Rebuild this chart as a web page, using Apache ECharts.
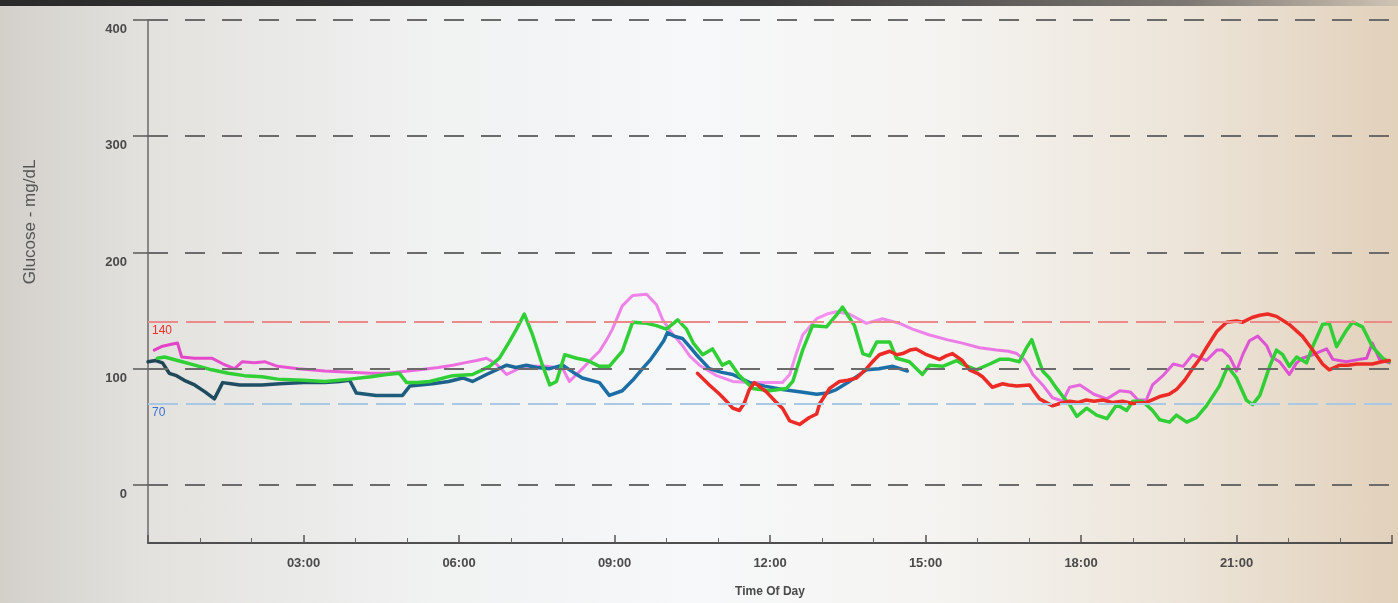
<!DOCTYPE html>
<html>
<head>
<meta charset="utf-8">
<title>Glucose - Time Of Day</title>
<script src="https://cdn.jsdelivr.net/npm/echarts@6/dist/echarts.min.js"></script>
<style>
  html, body { margin: 0; padding: 0; }
  body {
    width: 1398px; height: 603px; overflow: hidden; position: relative;
    background: linear-gradient(90deg, #d3d0ca 0%, #e2e1dd 10%, #f0f1f1 30%, #f6f8f9 50%, #f4f3f0 68%, #ece4d8 85%, #e2d1bb 100%);
  }
  #bezel {
    position: absolute; left: 0; top: 0; width: 1398px; height: 6px;
    background: linear-gradient(90deg, #2a2a2a 0%, #3a3a3a 55%, #7d7873 85%, #cfc4b4 100%);
  }
  #chart { position: absolute; left: 0; top: 0; width: 1398px; height: 603px; }
</style>
</head>
<body>
<div id="bezel"></div>
<div id="chart"></div>
<script>
// Glucose readings, [hour of day, mg/dL]
const traceBlue = [[0,106],[0.15,107],[0.28,105],[0.41,96],[0.55,94],[0.7,90],[0.9,86],[1.1,80],[1.28,74],[1.44,88],[1.6,87],[1.77,86],[2.2,86],[2.54,87],[3.0,88],[3.41,88],[3.7,89],[3.89,90],[4.02,79],[4.4,77],[4.91,77],[5.05,85],[5.49,87],[5.8,89],[6.07,92],[6.26,89],[6.53,95],[6.92,103],[7.1,101],[7.3,103],[7.5,101],[7.75,100],[8.0,103],[8.2,97],[8.38,92],[8.71,88],[8.9,77],[9.15,81],[9.35,90],[9.54,100],[9.7,108],[9.81,115],[9.95,124],[10.02,131],[10.15,128],[10.31,126],[10.45,119],[10.58,112],[10.83,100],[11.05,97],[11.28,95],[11.61,88],[11.9,85],[12.24,82],[12.6,80],[12.9,78],[13.1,79],[13.28,82],[13.5,88],[13.86,99],[14.1,100],[14.37,102],[14.65,98]];

const tracePink = [[0.12,116],[0.26,119],[0.45,121],[0.57,122],[0.65,110],[0.9,109],[1.23,109],[1.45,104],[1.67,100],[1.82,106],[2.05,105],[2.25,106],[2.5,102],[2.9,100],[3.41,98],[3.9,97],[4.3,96],[4.6,96],[5.24,99],[5.6,101],[5.88,103],[6.1,105],[6.34,107],[6.53,109],[6.72,104],[6.92,95],[7.1,99],[7.22,102],[7.69,102],[8.0,100],[8.13,89],[8.38,100],[8.55,108],[8.71,115],[8.85,125],[8.96,134],[9.15,154],[9.35,163],[9.62,164],[9.81,155],[9.93,142],[10.1,131],[10.31,120],[10.45,111],[10.64,103],[10.97,94],[11.28,89],[11.6,88],[11.93,88],[12.24,88],[12.38,95],[12.5,112],[12.63,129],[12.9,143],[13.1,147],[13.28,149],[13.53,147],[13.86,139],[14.17,143],[14.5,139],[14.75,134],[15.08,129],[15.41,125],[15.71,122],[16.04,118],[16.37,116],[16.6,115],[16.76,113],[16.9,108],[16.98,103],[17.07,95],[17.26,86],[17.45,75],[17.65,72],[17.78,84],[17.98,86],[18.25,78],[18.5,74],[18.75,81],[18.95,80],[19.1,73],[19.26,73],[19.38,86],[19.58,94],[19.78,104],[19.97,102],[20.15,112],[20.42,107],[20.62,116],[20.73,116],[20.87,110],[21.0,98],[21.12,112],[21.25,124],[21.41,128],[21.58,120],[21.68,110],[21.83,106],[22.02,95],[22.16,105],[22.27,109],[22.47,112],[22.74,117],[22.86,108],[23.12,106],[23.37,108],[23.51,109],[23.62,122],[23.76,108],[23.95,105]];

const traceGreen = [[0.18,109],[0.32,110],[0.57,107],[0.9,103],[1.23,99],[1.55,96],[1.86,94],[2.2,93],[2.5,91],[3.0,90],[3.41,89],[3.9,91],[4.3,93],[4.6,95],[4.85,96],[4.99,88],[5.2,88],[5.43,89],[5.88,94],[6.26,95],[6.45,99],[6.59,102],[6.78,109],[6.97,123],[7.11,134],[7.26,147],[7.42,129],[7.61,103],[7.75,86],[7.88,89],[8.04,112],[8.27,109],[8.48,107],[8.71,102],[8.9,102],[9.15,115],[9.35,140],[9.62,139],[9.81,137],[10.0,134],[10.22,142],[10.39,134],[10.52,122],[10.7,112],[10.89,117],[11.08,103],[11.22,106],[11.41,94],[11.67,83],[11.99,81],[12.32,83],[12.44,89],[12.63,116],[12.82,137],[13.09,136],[13.28,146],[13.4,153],[13.5,146],[13.63,137],[13.79,113],[13.92,111],[14.06,123],[14.31,123],[14.44,109],[14.69,106],[14.94,95],[15.08,103],[15.33,102],[15.6,107],[15.71,104],[15.98,99],[16.24,104],[16.43,108],[16.62,108],[16.81,106],[16.95,118],[17.05,125],[17.14,113],[17.26,98],[17.39,92],[17.53,83],[17.65,76],[17.78,69],[17.92,59],[18.11,66],[18.3,60],[18.5,57],[18.69,69],[18.88,64],[19.0,72],[19.19,72],[19.38,64],[19.52,56],[19.71,54],[19.84,60],[20.04,54],[20.23,58],[20.42,68],[20.67,85],[20.83,102],[21.0,92],[21.19,73],[21.31,69],[21.45,77],[21.64,102],[21.77,116],[21.89,112],[22.02,102],[22.16,110],[22.35,105],[22.47,119],[22.66,138],[22.79,139],[22.93,119],[23.12,133],[23.24,140],[23.43,136],[23.62,119],[23.82,109],[23.95,106]];

const traceRed = [[10.6,96],[10.83,86],[11.03,78],[11.16,72],[11.28,66],[11.41,64],[11.5,70],[11.6,82],[11.7,88],[11.93,80],[12.1,72],[12.24,66],[12.38,55],[12.57,52],[12.76,58],[12.9,61],[12.96,70],[13.15,83],[13.34,89],[13.5,90],[13.67,92],[13.86,100],[14.0,107],[14.11,112],[14.31,115],[14.45,112],[14.56,113],[14.7,116],[14.82,117],[15.02,112],[15.15,110],[15.27,108],[15.4,111],[15.52,113],[15.71,107],[15.85,99],[16.0,96],[16.1,93],[16.29,84],[16.49,87],[16.6,86],[16.76,85],[17.01,86],[17.1,80],[17.2,74],[17.45,68],[17.59,70],[17.78,72],[17.95,71],[18.1,73],[18.25,72],[18.42,73],[18.6,71],[18.8,72],[19.0,70],[19.26,71],[19.52,76],[19.7,78],[19.84,82],[20.0,90],[20.15,100],[20.3,109],[20.42,118],[20.62,132],[20.81,140],[21.0,141],[21.12,140],[21.3,144],[21.45,146],[21.6,147],[21.77,145],[22.02,138],[22.27,128],[22.47,116],[22.66,104],[22.79,99],[22.99,103],[23.15,103],[23.32,104],[23.62,104],[23.8,106],[23.95,107]];

// Axis ticks and reference levels
const yTicks = [0, 100, 200, 300, 400];
const targetHigh = 140;
const targetLow = 70;

const chart = echarts.init(document.getElementById('chart'), null, { renderer: 'canvas' });

const grayGrid = yTicks.map(v => ({
  yAxis: v,
  lineStyle: { color: '#6b6b6b', width: 2, type: [20, 17] },
  label: { show: false }
}));

function traceLine(name, data, color, width) {
  return {
    name: name, type: 'line', data: data, showSymbol: false, symbol: 'none',
    smooth: false, silent: true,
    lineStyle: { color: color, width: width, cap: 'round', join: 'round' }
  };
}

const blueColor = new echarts.graphic.LinearGradient(0, 0, 1, 0, [
  { offset: 0, color: '#1f4553' },
  { offset: 0.3, color: '#1e5a78' },
  { offset: 0.55, color: '#1b6ea6' },
  { offset: 1, color: '#1b70a8' }
]);
const pinkColor = new echarts.graphic.LinearGradient(0, 0, 1, 0, [
  { offset: 0, color: '#e43fc6' },
  { offset: 0.3, color: '#ee7ae6' },
  { offset: 0.55, color: '#f290ef' },
  { offset: 0.8, color: '#e35fdb' },
  { offset: 1, color: '#d947cd' }
]);

const pinkSeries = traceLine('pink', tracePink, pinkColor, 3);
pinkSeries.markLine = {
  silent: true, symbol: 'none', animation: false,
  data: grayGrid.concat([
    {
      yAxis: targetHigh,
      lineStyle: { color: '#ec8a8a', width: 2, type: [30, 8] },
      label: { show: true, position: 'insideStartBottom', formatter: String(targetHigh),
               color: '#e8312a', fontSize: 12, fontFamily: 'Liberation Sans, Arial, sans-serif', distance: [4, 3] }
    },
    {
      yAxis: targetLow,
      lineStyle: { color: '#a8c8e4', width: 2, type: [30, 8] },
      label: { show: true, position: 'insideStartBottom', formatter: String(targetLow),
               color: '#3b6fd6', fontSize: 12, fontFamily: 'Liberation Sans, Arial, sans-serif', distance: [4, 3] }
    }
  ])
};

const option = {
  animation: false,
  backgroundColor: 'transparent',
  grid: { left: 148, right: 6, top: 20, bottom: 58, containLabel: false },
  xAxis: {
    type: 'value', min: 0, max: 24, interval: 3,
    name: 'Time Of Day', nameLocation: 'middle', nameGap: 43,
    nameTextStyle: { color: '#4a4a4a', fontSize: 12, fontWeight: 'bold', fontFamily: 'Liberation Sans, Arial, sans-serif' },
    axisLine: { show: true, onZero: false, lineStyle: { color: '#4f4f4f', width: 2 } },
    axisTick: { show: true, inside: true, length: 8, lineStyle: { color: '#555', width: 1.5 } },
    minorTick: { show: true, splitNumber: 3, length: 5, lineStyle: { color: '#666', width: 1 } },
    splitLine: { show: false },
    axisLabel: {
      margin: 14, color: '#4a4a4a', fontSize: 13, fontWeight: 'bold',
      fontFamily: 'Liberation Sans, Arial, sans-serif',
      formatter: v => (v > 0 && v < 24) ? String(v).padStart(2, '0') + ':00' : ''
    }
  },
  yAxis: {
    type: 'value', min: -50, max: 400,
    axisLine: { show: true, onZero: false, lineStyle: { color: '#6a6a6a', width: 1.5 } },
    axisTick: { show: true, length: 15, customValues: yTicks, lineStyle: { color: '#5a5a5a', width: 1.5 } },
    splitLine: { show: false },
    axisLabel: {
      customValues: yTicks, margin: 21, color: '#4a4a4a', fontSize: 13, fontWeight: 'bold',
      fontFamily: 'Liberation Sans, Arial, sans-serif', verticalAlign: 'top', padding: [3, 0, 0, 0]
    }
  },
  graphic: [{
    type: 'text', x: 30, y: 222, rotation: Math.PI / 2,
    style: {
      text: 'Glucose - mg/dL', fill: '#555555', fontSize: 17,
      fontFamily: 'Liberation Sans, Arial, sans-serif',
      textAlign: 'center', textVerticalAlign: 'middle'
    }
  }],
  series: [
    pinkSeries,
    traceLine('blue', traceBlue, blueColor, 3.5),
    traceLine('green', traceGreen, '#2fcf35', 3.5),
    traceLine('red', traceRed, '#ec2a26', 3.5)
  ]
};

chart.setOption(option);
</script>
</body>
</html>
